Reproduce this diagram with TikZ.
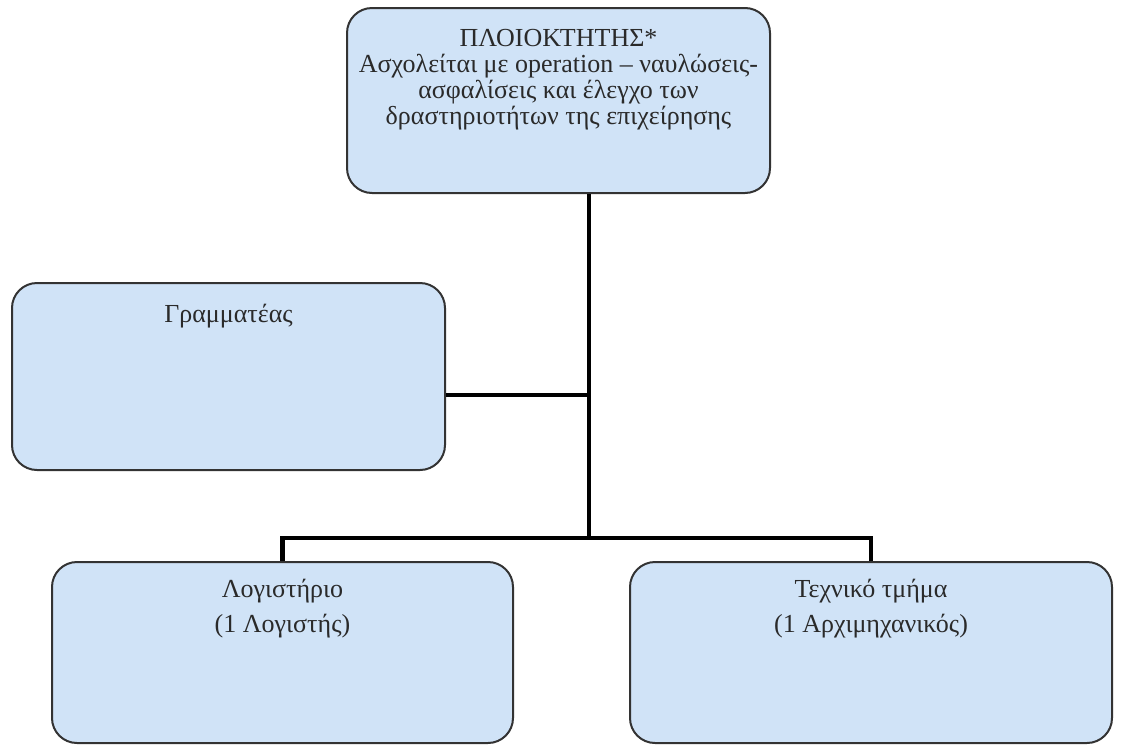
\documentclass[tikz,border=0pt]{standalone}
\usepackage{fontspec}
\setmainfont{Liberation Serif}
\definecolor{boxfill}{HTML}{D0E3F7}
\definecolor{boxline}{HTML}{333333}
\definecolor{txt}{HTML}{2A2A2A}
\begin{document}
\begin{tikzpicture}[x=1pt,y=-1pt,
  orgbox/.style={draw=boxline, line width=2pt, fill=boxfill, rounded corners=25pt, inner sep=0pt},
  orgtext/.style={anchor=north, inner sep=0pt, align=center, text=txt},
  conn/.style={draw=black, line width=4.5pt}]
\useasboundingbox (0,0) rectangle (1122,745);
% boxes
\node[orgbox, minimum width=423pt, minimum height=185pt] (own) at (558.5,100.5) {};
\node[orgbox, minimum width=433pt, minimum height=187pt] (gram) at (228.5,376.5) {};
\node[orgbox, minimum width=461pt, minimum height=181pt] (log) at (282.5,652.5) {};
\node[orgbox, minimum width=482pt, minimum height=181pt] (tech) at (871,652.5) {};
% texts
\node[orgtext, font=\fontsize{26}{26}\selectfont] (owntxt) at (558.5,29)
  {ΠΛΟΙΟΚΤΗΤΗΣ*\\Ασχολείται με operation – ναυλώσεις-\\ασφαλίσεις και έλεγχο των\\δραστηριοτήτων της επιχείρησης};
\node[orgtext, font=\fontsize{26}{26}\selectfont] (gramtxt) at (228.5,304) {Γραμματέας};
\node[orgtext, font=\fontsize{26}{35}\selectfont] (logtxt) at (282.5,579) {Λογιστήριο\\(1 Λογιστής)};
\node[orgtext, font=\fontsize{26}{35}\selectfont] (techtxt) at (871,579) {Τεχνικό τμήμα\\(1 Αρχιμηχανικός)};
% connectors
\coordinate (j1) at (589,395);
\coordinate (j2) at (589,538);
\draw[conn] (own.south -| j1) -- (j2);
\draw[conn] (gram.east |- j1) -- (j1);
\draw[conn] (log.north) -- (log.north |- j2) -- (tech.north |- j2) -- (tech.north);
\end{tikzpicture}
\end{document}
